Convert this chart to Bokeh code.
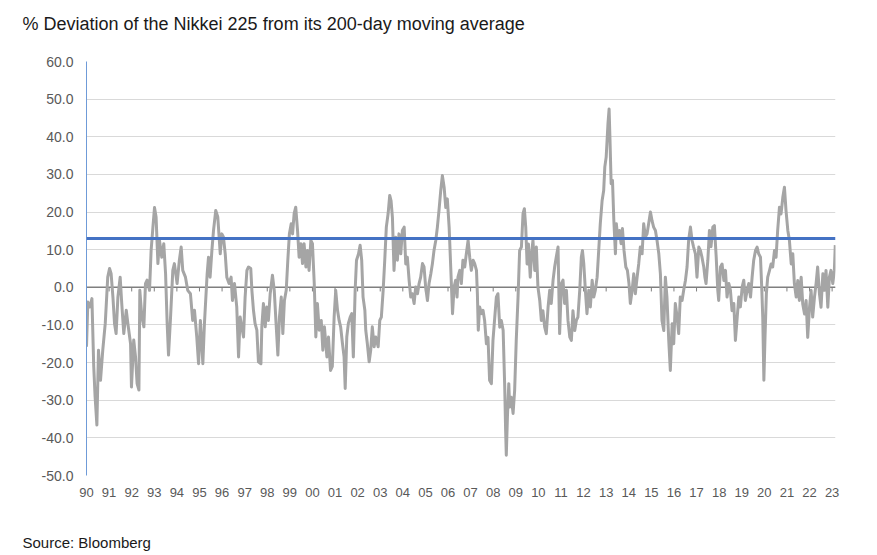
from bokeh.plotting import figure
from bokeh.models import Range1d, FixedTicker, NumeralTickFormatter, Span, Title
from bokeh.embed import file_html
from bokeh.resources import INLINE

TITLE = "% Deviation of the Nikkei 225 from its 200-day moving average"
SOURCE = "Source: Bloomberg"

DATES = [
    1990.00, 1990.06, 1990.15, 1990.24, 1990.32, 1990.38, 1990.46, 1990.53, 1990.62, 1990.72,
    1990.83, 1990.94, 1991.02, 1991.09, 1991.17, 1991.24, 1991.31, 1991.39, 1991.49, 1991.56,
    1991.65, 1991.76, 1991.83, 1991.95, 1991.99, 1992.09, 1992.17, 1992.24, 1992.32, 1992.36,
    1992.45, 1992.54, 1992.61, 1992.68, 1992.79, 1992.86, 1992.94, 1993.01, 1993.08, 1993.16,
    1993.23, 1993.33, 1993.42, 1993.50, 1993.57, 1993.63, 1993.72, 1993.82, 1993.89, 1994.01,
    1994.11, 1994.19, 1994.26, 1994.38, 1994.48, 1994.60, 1994.70, 1994.78, 1994.88, 1994.96,
    1995.04, 1995.15, 1995.22, 1995.34, 1995.40, 1995.47, 1995.55, 1995.62, 1995.72, 1995.81,
    1995.92, 1995.99, 1996.06, 1996.14, 1996.21, 1996.31, 1996.40, 1996.46, 1996.55, 1996.65,
    1996.73, 1996.80, 1996.87, 1996.95, 1997.02, 1997.10, 1997.17, 1997.27, 1997.32, 1997.39,
    1997.46, 1997.54, 1997.61, 1997.72, 1997.76, 1997.83, 1997.91, 1997.98, 1998.05, 1998.13,
    1998.23, 1998.31, 1998.39, 1998.47, 1998.54, 1998.62, 1998.69, 1998.76, 1998.84, 1998.91,
    1998.98, 1999.06, 1999.12, 1999.19, 1999.26, 1999.34, 1999.41, 1999.49, 1999.56, 1999.63,
    1999.71, 1999.78, 1999.85, 1999.93, 2000.00, 2000.08, 2000.15, 2000.22, 2000.30, 2000.39,
    2000.46, 2000.53, 2000.64, 2000.71, 2000.80, 2000.88, 2000.96, 2001.03, 2001.11, 2001.18,
    2001.25, 2001.33, 2001.40, 2001.45, 2001.52, 2001.59, 2001.67, 2001.74, 2001.81, 2001.89,
    2001.95, 2002.04, 2002.11, 2002.18, 2002.24, 2002.32, 2002.36, 2002.43, 2002.51, 2002.58,
    2002.65, 2002.73, 2002.80, 2002.91, 2002.98, 2003.05, 2003.13, 2003.20, 2003.27, 2003.35,
    2003.42, 2003.48, 2003.54, 2003.61, 2003.69, 2003.76, 2003.83, 2003.91, 2003.98, 2004.06,
    2004.13, 2004.20, 2004.28, 2004.35, 2004.42, 2004.50, 2004.57, 2004.65, 2004.72, 2004.79,
    2004.87, 2004.94, 2005.01, 2005.09, 2005.16, 2005.24, 2005.31, 2005.38, 2005.46, 2005.53,
    2005.60, 2005.68, 2005.75, 2005.83, 2005.90, 2005.97, 2006.05, 2006.12, 2006.20, 2006.27,
    2006.34, 2006.40, 2006.44, 2006.52, 2006.59, 2006.66, 2006.74, 2006.81, 2006.89, 2006.96,
    2007.03, 2007.11, 2007.18, 2007.26, 2007.30, 2007.34, 2007.40, 2007.48, 2007.55, 2007.62,
    2007.70, 2007.77, 2007.84, 2007.92, 2007.99, 2008.07, 2008.14, 2008.21, 2008.29, 2008.36,
    2008.44, 2008.51, 2008.55, 2008.58, 2008.63, 2008.69, 2008.73, 2008.80, 2008.88, 2008.95,
    2009.02, 2009.10, 2009.17, 2009.25, 2009.32, 2009.38, 2009.44, 2009.50, 2009.56, 2009.64,
    2009.70, 2009.76, 2009.84, 2009.91, 2009.98, 2010.06, 2010.13, 2010.20, 2010.28, 2010.35,
    2010.43, 2010.50, 2010.57, 2010.65, 2010.72, 2010.79, 2010.87, 2010.94, 2011.02, 2011.09,
    2011.16, 2011.24, 2011.31, 2011.39, 2011.46, 2011.53, 2011.61, 2011.68, 2011.75, 2011.83,
    2011.90, 2011.95, 2012.01, 2012.08, 2012.15, 2012.23, 2012.30, 2012.38, 2012.45, 2012.52,
    2012.60, 2012.67, 2012.74, 2012.82, 2012.89, 2012.94, 2013.00, 2013.04, 2013.08, 2013.13,
    2013.17, 2013.22, 2013.28, 2013.34, 2013.41, 2013.45, 2013.51, 2013.59, 2013.66, 2013.72,
    2013.79, 2013.87, 2013.94, 2014.01, 2014.07, 2014.15, 2014.22, 2014.29, 2014.37, 2014.44,
    2014.51, 2014.59, 2014.66, 2014.74, 2014.81, 2014.88, 2014.96, 2015.03, 2015.10, 2015.18,
    2015.25, 2015.33, 2015.40, 2015.47, 2015.55, 2015.62, 2015.69, 2015.77, 2015.84, 2015.92,
    2015.99, 2016.06, 2016.14, 2016.21, 2016.28, 2016.36, 2016.43, 2016.51, 2016.58, 2016.65,
    2016.73, 2016.80, 2016.87, 2016.95, 2017.02, 2017.10, 2017.17, 2017.24, 2017.32, 2017.37,
    2017.42, 2017.50, 2017.57, 2017.64, 2017.72, 2017.79, 2017.87, 2017.94, 2017.98, 2018.06,
    2018.13, 2018.21, 2018.28, 2018.35, 2018.43, 2018.50, 2018.57, 2018.65, 2018.72, 2018.80,
    2018.87, 2018.94, 2019.02, 2019.09, 2019.16, 2019.24, 2019.31, 2019.39, 2019.46, 2019.53,
    2019.61, 2019.68, 2019.75, 2019.83, 2019.89, 2019.93, 2019.98, 2020.03, 2020.09, 2020.15,
    2020.23, 2020.30, 2020.37, 2020.45, 2020.52, 2020.59, 2020.67, 2020.74, 2020.82, 2020.89,
    2020.96, 2021.04, 2021.11, 2021.19, 2021.26, 2021.33, 2021.41, 2021.48, 2021.55, 2021.63,
    2021.70, 2021.78, 2021.85, 2021.92, 2022.00, 2022.07, 2022.14, 2022.22, 2022.29, 2022.36,
    2022.44, 2022.51, 2022.59, 2022.66, 2022.73, 2022.81, 2022.88, 2022.95, 2023.03, 2023.10,
    2023.14,
]

VALUES = [
    -15.8, -3.9, -5.2, -3.0, -21.0, -29.0, -36.6, -16.7, -24.7, -16.7,
    -9.6, 2.7, 5.0, 3.6, -2.6, -9.6, -12.3, -2.6, 2.7, -4.3,
    -12.3, -6.1, -9.6, -15.0, -26.5, -14.0, -18.5, -25.6, -27.3, -0.8,
    -7.9, -10.5, 1.0, 1.9, -0.8, 9.8, 16.0, 21.2, 18.7, 6.3,
    12.5, 8.0, 11.6, 3.6, -9.6, -18.0, -7.9, 4.5, 6.3, 1.0,
    7.2, 10.7, 4.5, 2.7, -0.8, -1.7, -8.8, -6.1, -13.2, -20.3,
    -8.8, -20.3, -9.6, 3.6, 8.0, 2.7, 9.8, 15.0, 20.4, 18.7,
    8.9, 14.2, 13.4, 8.9, 2.7, 1.0, 2.7, -3.5, 1.0, -5.2,
    -18.5, -7.9, -10.5, -13.2, -2.6, 4.5, 5.4, 5.0, -0.8, -6.1,
    -9.6, -11.4, -19.8, -20.3, -10.5, -4.3, -10.5, -5.2, -8.8, -1.7,
    3.2, -0.8, -9.6, -18.0, -7.9, -2.6, -12.3, -3.5, -0.8, 7.2,
    14.2, 16.9, 14.2, 19.6, 21.3, 15.1, 8.0, 11.6, 6.3, 11.6,
    5.4, 9.8, 4.5, 12.5, 11.6, 1.0, -13.2, -4.3, -11.4, -8.8,
    -16.7, -10.5, -18.5, -13.2, -22.1, -21.0, -7.9, -0.8, -6.1, -8.8,
    -10.6, -15.0, -18.5, -26.9, -13.2, -9.6, -7.9, -7.0, -18.5, -0.8,
    7.2, 8.9, 11.2, 7.2, -2.6, -6.1, -11.4, -15.0, -19.8, -16.7,
    -10.5, -15.8, -13.2, -15.8, -8.8, -7.9, -0.8, 7.2, 16.0, 19.6,
    24.4, 23.0, 18.6, 4.5, 13.3, 7.2, 14.2, 8.9, 15.1, 16.0,
    6.2, 8.0, 1.8, -2.6, -1.7, -4.3, 0.1, -1.7, 1.0, 2.7,
    6.3, 5.4, 0.1, -3.5, 1.0, 3.6, 6.3, 9.8, 12.5, 16.0,
    20.4, 25.8, 29.7, 26.5, 21.2, 23.5, 16.0, 5.4, -7.0, 0.1,
    1.9, -2.6, 2.7, 4.5, 1.0, 7.2, 5.4, 8.9, 12.5, 8.0,
    4.5, 7.2, 6.3, 4.5, -1.7, -11.4, -5.2, -7.0, -6.1, -8.8,
    -15.0, -13.3, -24.7, -25.6, -14.1, -7.9, -2.6, -1.7, -10.6, -8.8,
    -11.4, -26.5, -38.0, -44.6, -34.4, -25.6, -31.8, -29.2, -33.5, -27.3,
    -14.1, -2.6, 9.8, 10.7, 19.6, 20.9, 16.0, 6.2, 11.5, 2.7,
    8.9, 12.5, 4.5, 10.7, 0.1, -3.5, -8.8, -6.2, -10.6, -12.3,
    -5.2, -0.8, -4.3, 1.9, 5.4, 8.0, 10.7, -12.3, 1.0, 1.9,
    -4.3, -0.8, -8.8, -13.2, -14.1, -6.2, -11.5, -8.8, -7.9, -0.8,
    8.0, 9.8, 6.2, -0.8, -7.0, -0.8, -5.2, 1.9, -2.6, -0.8,
    2.7, 9.8, 16.9, 23.0, 25.7, 32.0, 34.6, 39.0, 43.5, 47.4,
    39.0, 27.5, 28.4, 17.7, 8.9, 16.9, 13.4, 15.1, 11.6, 15.6,
    9.8, 5.4, 4.5, 1.0, -4.3, -0.8, 3.6, -1.7, 2.7, 6.2,
    10.7, 8.9, 16.9, 13.4, 14.2, 16.9, 20.0, 17.7, 16.0, 15.1,
    12.5, 8.9, 3.6, -8.8, -11.5, 2.7, -2.6, -14.1, -22.1, -9.7,
    -15.0, -4.3, -7.9, -12.3, -2.6, -3.5, -0.8, 1.9, 5.4, 12.5,
    16.0, 12.5, 10.7, 8.9, 2.7, 10.7, 9.8, 8.0, 5.4, 2.7,
    1.0, 7.2, 15.1, 10.8, 16.0, 16.4, 8.0, -0.8, -3.5, 5.4,
    6.2, 1.8, 4.5, -2.6, 1.0, -0.8, -6.2, -4.3, -14.1, -7.9,
    -2.6, -5.2, 0.1, 1.9, -3.5, -0.8, 1.0, -2.6, 2.7, 7.2,
    9.8, 10.7, 8.9, 8.0, -0.8, -7.9, -24.7, -13.3, -1.7, 2.7,
    4.5, 6.2, 5.4, 9.8, 8.0, 15.1, 21.3, 19.5, 24.0, 26.6,
    20.4, 15.1, 12.5, 6.2, 8.9, 1.0, -2.6, 1.8, -3.5, 2.7,
    -4.4, -7.1, -3.5, -13.3, -5.3, -0.8, -7.9, -2.6, 1.0, 5.4,
    -1.7, -5.3, 3.6, -0.8, 4.5, -5.3, 2.7, 4.5, 1.0, 4.5,
    11.2,
]

YEARS = list(range(1990, 2024))
YEAR_LABELS = ["90", "91", "92", "93", "94", "95", "96", "97", "98", "99",
               "00", "01", "02", "03", "04", "05", "06", "07", "08", "09",
               "10", "11", "12", "13", "14", "15", "16", "17", "18", "19",
               "20", "21", "22", "23"]
Y_TICKS = [-50, -40, -30, -20, -10, 0, 10, 20, 30, 40, 50, 60]
THRESHOLD = 13.0

FONT = "Liberation Sans"

p = figure(width=870, height=555, output_backend="svg", toolbar_location=None,
           x_range=Range1d(1990, 2023.15), y_range=Range1d(-50, 60),
           min_border_left=86, min_border_right=35, min_border_top=61,
           min_border_bottom=80)
p.outline_line_color = None
p.background_fill_color = "white"
p.border_fill_color = "white"

# title: the trailing empty line only reserves vertical room in the top border
p.title = Title(text=TITLE + "\n", align="left", offset=-64, vertical_align="top",
                standoff=12, text_font=FONT, text_font_size="18px",
                text_font_style="normal", text_color="#1a1a1a")
# source note: the leading empty line pushes the text to the bottom of the canvas
p.add_layout(Title(text="\n" + SOURCE, align="left", offset=-64, vertical_align="bottom",
                   standoff=2, text_line_height=1.9, text_font=FONT,
                   text_font_size="15px", text_font_style="normal",
                   text_color="#1a1a1a"), "below")

p.xgrid.visible = False
p.ygrid.ticker = FixedTicker(ticks=Y_TICKS)
p.ygrid.grid_line_color = "#d9d9d9"
p.ygrid.grid_line_width = 1

yax = p.yaxis[0]
yax.ticker = FixedTicker(ticks=Y_TICKS)
yax.formatter = NumeralTickFormatter(format="0.0")
yax.axis_line_color = "#6f9bd8"
yax.axis_line_width = 1
yax.major_tick_line_color = None
yax.minor_tick_line_color = None
yax.major_tick_out = 0
yax.major_label_standoff = 13
yax.major_label_text_font = FONT
yax.major_label_text_font_size = "14px"
yax.major_label_text_color = "#595959"

xax = p.xaxis[0]
xax.ticker = FixedTicker(ticks=YEARS)
xax.major_label_overrides = {y: lab for y, lab in zip(YEARS, YEAR_LABELS)}
xax.axis_line_color = None
xax.major_tick_line_color = None
xax.minor_tick_line_color = None
xax.major_tick_out = 0
xax.major_label_standoff = 12
xax.major_label_text_font = FONT
xax.major_label_text_font_size = "13px"
xax.major_label_text_color = "#595959"

# zero axis line with year tick marks (beneath the series)
p.add_layout(Span(location=0, dimension="width", line_color="#7f7f7f",
                  line_width=1.5, level="underlay"))
p.segment(x0=YEARS, y0=[0] * len(YEARS), x1=YEARS, y1=[-1.1] * len(YEARS),
          line_color="#7f7f7f", line_width=1)

p.line(DATES, VALUES, line_color="#a5a5a5", line_width=3, line_join="round")

p.add_layout(Span(location=THRESHOLD, dimension="width", line_color="#4472c4",
                  line_width=3))

open("out.html", "w").write(file_html(p, INLINE))
